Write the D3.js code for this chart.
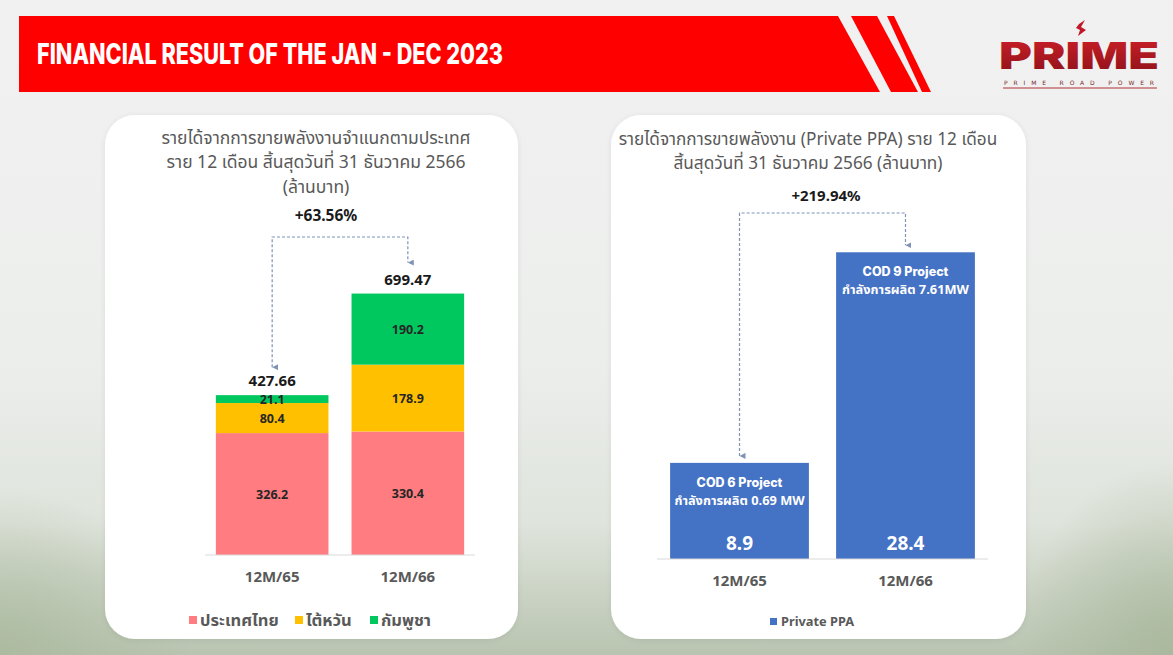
<!DOCTYPE html>
<html><head><meta charset="utf-8">
<script src="https://cdn.jsdelivr.net/npm/d3@7"></script>
<style>
html,body{margin:0;padding:0;background:#efefef;}
svg{display:block;}
</style></head>
<body>
<svg id="c" width="1173" height="655"></svg>
<script>
// ---------- DATA ----------
const categories = ["12M/65", "12M/66"];
const countrySeries = ["ประเทศไทย", "ไต้หวัน", "กัมพูชา"];
const thailandValues = [326.2, 330.4];
const taiwanValues = [80.4, 178.9];
const cambodiaValues = [21.1, 190.2];
const countryTotals = [427.66, 699.47];
const countryGrowth = "+63.56%";

const ppaSeries = ["Private PPA"];
const ppaValues = [8.9, 28.4];
const ppaProjects = ["COD 6 Project", "COD 9 Project"];
const ppaCapacity = ["กำลังการผลิต 0.69 MW", "กำลังการผลิต 7.61MW"];
const ppaGrowth = "+219.94%";

const leftTitle = ["รายได้จากการขายพลังงานจำแนกตามประเทศ", "ราย 12 เดือน สิ้นสุดวันที่ 31 ธันวาคม 2566", "(ล้านบาท)"];
const rightTitle = ["รายได้จากการขายพลังงาน (Private PPA) ราย 12 เดือน", "สิ้นสุดวันที่ 31 ธันวาคม 2566 (ล้านบาท)"];
const headerTitle = "FINANCIAL RESULT OF THE JAN - DEC 2023";

// ---------- STYLE ----------
const countryColors = ["#FF7C80", "#FFC000", "#00C85F"];
const ppaColor = "#4472C4";
const thaiFont = "'Noto Sans Thai','Noto Sans','DejaVu Sans',sans-serif";
const numFont = "'Noto Sans','Open Sans',sans-serif";

const svg = d3.select("#c");
const defs = svg.append("defs");

// background
const bg = defs.append("linearGradient").attr("id","bg").attr("x1",0).attr("y1",0).attr("x2",0).attr("y2",1);
bg.append("stop").attr("offset","0%").attr("stop-color","#f1f1f1");
bg.append("stop").attr("offset","55%").attr("stop-color","#eceeec");
bg.append("stop").attr("offset","80%").attr("stop-color","#dfe4dc");
bg.append("stop").attr("offset","100%").attr("stop-color","#b9c4b0");
svg.append("rect").attr("width",1173).attr("height",655).attr("fill","url(#bg)");
const bg2 = defs.append("radialGradient").attr("id","bgL").attr("cx","0").attr("cy","1").attr("r","0.6");
bg2.append("stop").attr("offset","0%").attr("stop-color","#a9b89c").attr("stop-opacity",0.8);
bg2.append("stop").attr("offset","100%").attr("stop-color","#a9b89c").attr("stop-opacity",0);
svg.append("rect").attr("x",0).attr("y",380).attr("width",320).attr("height",275).attr("fill","url(#bgL)");
const bg3 = defs.append("radialGradient").attr("id","bgR").attr("cx","1").attr("cy","1").attr("r","0.7");
bg3.append("stop").attr("offset","0%").attr("stop-color","#a7b69a").attr("stop-opacity",0.85);
bg3.append("stop").attr("offset","100%").attr("stop-color","#a7b69a").attr("stop-opacity",0);
svg.append("rect").attr("x",950).attr("y",380).attr("width",223).attr("height",275).attr("fill","url(#bgR)");

// header banner
svg.append("path").attr("d","M19,16 L838,16 L880,92 L19,92 Z").attr("fill","#FF0000");
svg.append("path").attr("d","M851,16 L877,16 L918,92 L891,92 Z").attr("fill","#FF0000");
svg.append("path").attr("d","M887,16 L894,16 L931,92 L922,92 Z").attr("fill","#FF0000");
svg.append("text").attr("x",37).attr("y",64).text(headerTitle)
  .attr("font-family","Inter, 'Open Sans', sans-serif").attr("font-weight",800)
  .attr("font-size",28).attr("fill","#fff").attr("textLength",466).attr("lengthAdjust","spacingAndGlyphs");

// logo
const lg = defs.append("linearGradient").attr("id","lg").attr("x1",0).attr("y1",0).attr("x2",0).attr("y2",1);
lg.append("stop").attr("offset","0%").attr("stop-color","#d0202a");
lg.append("stop").attr("offset","100%").attr("stop-color","#8a1118");
svg.append("text").attr("x",1079).attr("y",69).attr("text-anchor","middle").text("PRIME")
  .attr("font-family","Inter, sans-serif").attr("font-weight",900).attr("font-size",37)
  .attr("fill","url(#lg)").attr("textLength",160).attr("lengthAdjust","spacingAndGlyphs");
svg.append("text").attr("x",1079).attr("y",85).attr("text-anchor","middle").text("PRIME   ROAD   POWER")
  .attr("font-family","'DejaVu Sans', sans-serif").attr("font-size",6).attr("fill","#7a2a2a")
  .attr("textLength",150).attr("lengthAdjust","spacing");
svg.append("line").attr("x1",1003).attr("x2",1157).attr("y1",88).attr("y2",88).attr("stroke","#b03038").attr("stroke-width",1);
svg.append("path").attr("d","M1079,24 L1085,20 L1081,27 L1086,30 L1078,36 L1080,30 L1076,28 Z").attr("fill","#c0182a");

// panels
const sh = defs.append("filter").attr("id","sh").attr("x","-5%").attr("y","-5%").attr("width","110%").attr("height","110%");
sh.append("feGaussianBlur").attr("in","SourceAlpha").attr("stdDeviation",3);
sh.append("feOffset").attr("dx",0).attr("dy",1).attr("result","b");
sh.append("feComponentTransfer").append("feFuncA").attr("type","linear").attr("slope",0.08);
const mg = sh.append("feMerge"); mg.append("feMergeNode"); mg.append("feMergeNode").attr("in","SourceGraphic");
svg.append("rect").attr("x",105).attr("y",115).attr("width",413).attr("height",524).attr("rx",30).attr("fill","#fff").attr("filter","url(#sh)");
svg.append("rect").attr("x",611).attr("y",115).attr("width",415).attr("height",524).attr("rx",30).attr("fill","#fff").attr("filter","url(#sh)");

// arrow marker
defs.append("marker").attr("id","arr").attr("viewBox","0 0 10 10").attr("refX",5).attr("refY",10)
  .attr("markerWidth",5).attr("markerHeight",5).attr("orient","auto-start-reverse")
  .append("path").attr("d","M0,0 L10,0 L5,10 Z").attr("fill","#7f93b5");

function titleLines(lines, cx, y0, dy, fs){
  svg.append("g").selectAll("text").data(lines).join("text")
    .attr("x",cx).attr("y",(d,i)=>y0+i*dy).attr("text-anchor","middle")
    .attr("font-family",thaiFont).attr("font-size",fs).attr("fill","#595959").text(d=>d);
}

// ---------- LEFT CHART ----------
titleLines(leftTitle, 316, 143.5, 24.6, 17.5);
const xL = d3.scaleBand().domain(categories).range([205,475]).paddingInner(0.17).paddingOuter(0.08);
const yL = d3.scaleLinear().domain([0,800]).range([555,256]);
const rows = categories.map((c,i)=>({cat:c, "ประเทศไทย":thailandValues[i], "ไต้หวัน":taiwanValues[i], "กัมพูชา":cambodiaValues[i]}));
const stack = d3.stack().keys(countrySeries)(rows);
const gL = svg.append("g");
stack.forEach((s,si)=>{
  gL.append("g").selectAll("rect").data(s).join("rect")
    .attr("x",d=>xL(d.data.cat)).attr("width",xL.bandwidth())
    .attr("y",d=>yL(d[1])).attr("height",d=>yL(d[0])-yL(d[1]))
    .attr("fill",countryColors[si]);
  gL.append("g").selectAll("text").data(s).join("text")
    .attr("x",d=>xL(d.data.cat)+xL.bandwidth()/2)
    .attr("y",d=>(yL(d[0])+yL(d[1]))/2+4.5)
    .attr("text-anchor","middle").attr("font-family",numFont).attr("font-weight",700)
    .attr("font-size",12.5).attr("fill","#262626")
    .text(d=>(d[1]-d[0]).toFixed(1));
});
// axis baseline
const axL = svg.append("g").attr("transform","translate(0,555)").call(d3.axisBottom(xL).tickSize(0).tickPadding(16));
axL.select(".domain").attr("stroke","#d9d9d9").attr("d","M205,0H475");
axL.selectAll("text").attr("font-family",numFont).attr("font-weight",700).attr("font-size",15).attr("fill","#595959");
// totals
svg.append("g").selectAll("text").data(countryTotals).join("text")
  .attr("x",(d,i)=>xL(categories[i])+xL.bandwidth()/2).attr("y",d=>yL(d)-9)
  .attr("text-anchor","middle").attr("font-family",numFont).attr("font-weight",700)
  .attr("font-size",15).attr("fill","#1a1a1a").text(d=>d.toFixed(2));
// connector
{
  const xa = xL(categories[0])+xL.bandwidth()/2, xb = xL(categories[1])+xL.bandwidth()/2;
  svg.append("path").attr("d",`M${xa},${yL(countryTotals[0])-28} V237 H${xb} V${yL(countryTotals[1])-31}`)
    .attr("fill","none").attr("stroke","#7f93b5").attr("stroke-width",1.2).attr("stroke-dasharray","3,2")
    .attr("marker-start","url(#arr)").attr("marker-end","url(#arr)");
  svg.append("text").attr("x",326).attr("y",221).attr("text-anchor","middle")
    .attr("font-family",numFont).attr("font-weight",700).attr("font-size",15.5).attr("fill","#1a1a1a").text(countryGrowth);
}
// legend
{
  const lx = [189, 295, 370];
  const lgG = svg.append("g").selectAll("g").data(countrySeries).join("g")
    .attr("transform",(d,i)=>`translate(${lx[i]},620)`);
  lgG.append("rect").attr("x",0).attr("y",-4).attr("width",8).attr("height",8).attr("fill",(d,i)=>countryColors[i]);
  lgG.append("text").attr("x",11).attr("y",6).attr("font-family",thaiFont).attr("font-weight",700)
    .attr("font-size",16.5).attr("fill","#595959").text(d=>d);
}

// ---------- RIGHT CHART ----------
titleLines(rightTitle, 808, 145, 24.2, 17.2);
const xR = d3.scaleBand().domain(categories).range([657,988]).paddingInner(0.164).paddingOuter(0.079);
const yR = d3.scaleLinear().domain([0,30]).range([559,235]);
const gR = svg.append("g");
gR.selectAll("rect").data(ppaValues).join("rect")
  .attr("x",(d,i)=>xR(categories[i])).attr("width",xR.bandwidth())
  .attr("y",d=>yR(d)).attr("height",d=>yR(0)-yR(d)).attr("fill",ppaColor);
gR.selectAll("text.v").data(ppaValues).join("text").attr("class","v")
  .attr("x",(d,i)=>xR(categories[i])+xR.bandwidth()/2).attr("y",yR(0)-9)
  .attr("text-anchor","middle").attr("font-family",numFont).attr("font-weight",700)
  .attr("font-size",19).attr("fill","#fff").text(d=>d.toFixed(1));
gR.selectAll("text.p").data(ppaProjects).join("text").attr("class","p")
  .attr("x",(d,i)=>xR(categories[i])+xR.bandwidth()/2).attr("y",(d,i)=>yR(ppaValues[i])+24)
  .attr("text-anchor","middle").attr("font-family","Inter, 'Open Sans', sans-serif").attr("font-weight",800)
  .attr("font-size",12.5).attr("fill","#fff").text(d=>d);
gR.selectAll("text.c").data(ppaCapacity).join("text").attr("class","c")
  .attr("x",(d,i)=>xR(categories[i])+xR.bandwidth()/2).attr("y",(d,i)=>yR(ppaValues[i])+42)
  .attr("text-anchor","middle").attr("font-family",thaiFont).attr("font-weight",700)
  .attr("font-size",12.8).attr("fill","#fff").text(d=>d);
const axR = svg.append("g").attr("transform","translate(0,559)").call(d3.axisBottom(xR).tickSize(0).tickPadding(16));
axR.select(".domain").attr("stroke","#d9d9d9").attr("d","M657,0H988");
axR.selectAll("text").attr("font-family",numFont).attr("font-weight",700).attr("font-size",15).attr("fill","#595959");
{
  const xa = xR(categories[0])+xR.bandwidth()/2, xb = xR(categories[1])+xR.bandwidth()/2;
  svg.append("path").attr("d",`M${xa},${yR(ppaValues[0])-7} V213 H${xb} V${yR(ppaValues[1])-7}`)
    .attr("fill","none").attr("stroke","#7f93b5").attr("stroke-width",1.2).attr("stroke-dasharray","3,2")
    .attr("marker-start","url(#arr)").attr("marker-end","url(#arr)");
  svg.append("text").attr("x",826).attr("y",201).attr("text-anchor","middle")
    .attr("font-family",numFont).attr("font-weight",700).attr("font-size",15).attr("fill","#1a1a1a").text(ppaGrowth);
}
{
  const lgR = svg.append("g").attr("transform","translate(770,622)");
  lgR.append("rect").attr("x",0).attr("y",-4).attr("width",7).attr("height",7).attr("fill",ppaColor);
  lgR.append("text").attr("x",11).attr("y",4).attr("font-family",numFont).attr("font-weight",700)
    .attr("font-size",12.8).attr("fill","#595959").text(ppaSeries[0]);
}
</script>
</body></html>
